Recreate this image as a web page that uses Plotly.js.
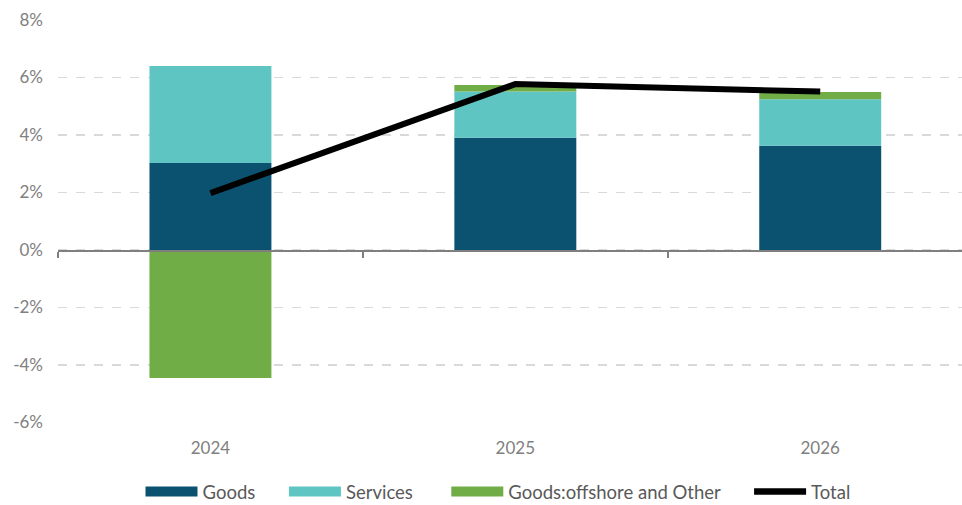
<!DOCTYPE html>
<html>
<head>
<meta charset="utf-8">
<script src="https://cdn.plot.ly/plotly-3.0.1.min.js"></script>
<style>html,body{margin:0;padding:0;background:#fff;}#chart{width:962px;height:505px;}</style>
</head>
<body>
<div id="chart"></div>
<script>
var years = ['2024', '2025', '2026'];
var goods = [3.03, 3.90, 3.63];
var services = [3.37, 1.61, 1.61];
var offshoreOther = [-4.45, 0.23, 0.26];
var total = [1.98, 5.77, 5.51];
var yTickVals = [-6, -4, -2, 0, 2, 4, 6, 8];
var yTickText = ['-6%', '-4%', '-2%', '0%', '2%', '4%', '6%', '8%'];
var seriesNames = ['Goods', 'Services', 'Goods:offshore and Other', 'Total'];
var seriesColors = ['#0B5270', '#5EC5C2', '#70AD47', '#000000'];
var legendPad = [5, 6, 5, 0];

var traces = [
  {type: 'bar', name: seriesNames[0], x: years, y: goods, width: 0.4,
   marker: {color: seriesColors[0]}, showlegend: false, hoverinfo: 'skip'},
  {type: 'bar', name: seriesNames[1], x: years, y: services, width: 0.4,
   marker: {color: seriesColors[1]}, showlegend: false, hoverinfo: 'skip'},
  {type: 'bar', name: seriesNames[2], x: years, y: offshoreOther, width: 0.4,
   marker: {color: seriesColors[2]}, showlegend: false, hoverinfo: 'skip'},
  {type: 'scatter', mode: 'lines', name: seriesNames[3], x: years, y: total,
   line: {color: seriesColors[3], width: 6}, showlegend: false, hoverinfo: 'skip'},
  {type: 'scatter', mode: 'markers', x: years, y: [0, 0, 0], xaxis: 'x2',
   marker: {opacity: 0}, showlegend: false, hoverinfo: 'skip'}
];
// legend entries (wide swatches like the original)
for (var i = 0; i < seriesNames.length; i++) {
  traces.push({type: 'scatter', mode: 'lines',
               name: seriesNames[i] + '\u00a0'.repeat(legendPad[i]), x: [null], y: [null],
               line: {color: seriesColors[i], width: i < 3 ? 12 : 6.5}, hoverinfo: 'skip'});
}

var yMin = -6, yMax = 8;
var domBottom = 82.5 / 485;
var layout = {
  width: 962, height: 505,
  margin: {l: 58, r: 0, t: 20, b: 0, autoexpand: false},
  paper_bgcolor: '#ffffff', plot_bgcolor: '#ffffff',
  font: {family: 'Lato, "Open Sans", sans-serif', size: 17, color: '#808080'},
  barmode: 'relative',
  showlegend: true,
  legend: {orientation: 'h', x: (498 - 58) / 904, xanchor: 'center', y: -6 / 485, yanchor: 'bottom',
           font: {size: 18.5, color: '#595959'}, traceorder: 'normal', itemwidth: 52,
           tracegroupgap: 0},
  xaxis: {type: 'category', range: [-0.5, 2.465], showgrid: false, showline: false,
          zeroline: false, ticks: 'outside', ticklen: 10, tickcolor: 'rgba(0,0,0,0)',
          tickfont: {size: 17, color: '#808080'}, fixedrange: true},
  xaxis2: {type: 'category', overlaying: 'x', anchor: 'free',
           position: domBottom + (0 - yMin) / (yMax - yMin) * (1 - domBottom), range: [-0.5, 2.465],
           showgrid: false, zeroline: false, showline: true, linecolor: '#7f7f7f', linewidth: 1.5,
           ticks: 'outside', tickson: 'boundaries', ticklen: 6, tickcolor: '#7f7f7f', tickwidth: 1.5,
           showticklabels: false, fixedrange: true},
  yaxis: {range: [yMin, yMax], domain: [domBottom, 1], tickvals: yTickVals, ticktext: yTickText,
          showgrid: true, gridcolor: '#d9d9d9', griddash: 'dash', gridwidth: 1.5,
          zeroline: false, showline: false, ticks: '', ticklabelstandoff: 14,
          tickfont: {size: 17, color: '#808080'}, fixedrange: true}
};

Plotly.newPlot('chart', traces, layout, {displayModeBar: false, staticPlot: true});
</script>
</body>
</html>
